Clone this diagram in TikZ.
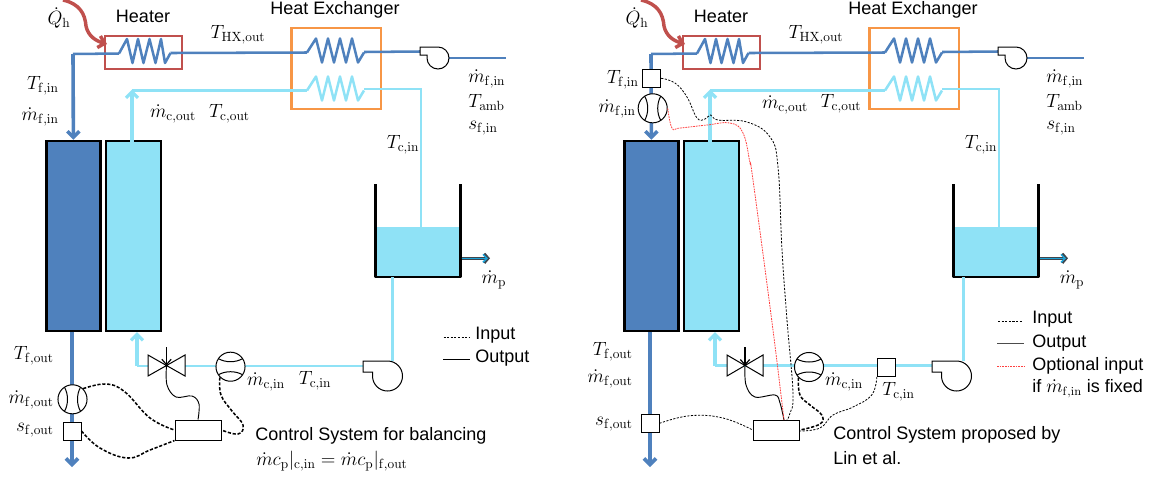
\documentclass[tikz,border=0pt]{standalone}
\usepackage[no-math]{fontspec}
\newfontfamily\sanslabel{Liberation Sans}
\usetikzlibrary{arrows.meta,calc}
\definecolor{hotc}{HTML}{4F81BD}
\definecolor{coldc}{HTML}{8FE2F6}
\definecolor{redc}{HTML}{C0504D}
\definecolor{orangec}{HTML}{F79646}
\tikzset{
  mathlbl/.style={font=\fontsize{14.4}{16}\selectfont,inner sep=0pt,text=black},
  sanslbl/.style={font=\sanslabel\fontsize{13.5}{16}\selectfont,inner sep=0pt,text=black,align=left},
  hotpipe/.style={draw=hotc,line width=1.9pt},
  hotmain/.style={draw=hotc,line width=2.7pt,-{Straight Barb[length=4.5pt,width=9pt]}},
  coldpipe/.style={draw=coldc,line width=1.9pt},
  coldmain/.style={draw=coldc,line width=2.5pt,-{Straight Barb[length=4.5pt,width=9pt]}},
  thinblk/.style={draw=black,line width=.75pt},
  instr/.style={thinblk,fill=white,minimum width=13.5pt,minimum height=13.5pt,inner sep=0pt},
  ctrl/.style={thinblk,fill=white,minimum width=34.5pt,minimum height=15pt,inner sep=0pt},
  meter/.style={thinblk,fill=white,circle,minimum size=21.8pt,inner sep=0pt},
  sigthick/.style={draw=black,line width=1.15pt,dash pattern=on 2.4pt off 1.3pt},
  sigthin/.style={draw=black,line width=.6pt,dash pattern=on 1.6pt off 1.1pt},
  sigsolid/.style={draw=black,line width=.7pt},
  sigred/.style={draw=red!75,line width=.6pt,dash pattern=on 1.3pt off .7pt},
  block/.style={draw=black,line width=1.8pt,minimum height=142.5pt,inner sep=0pt},
}
\newcommand{\coilpath}[2]{% x, y start
  (#1,#2) -- ++(9,-14) -- ++(6,24) -- ++(6,-24) -- ++(6,24) -- ++(6,-24) -- ++(6,24) -- ++(6,-24) -- ++(6,24) -- ++(6,-10)}
\newcommand{\meterV}[3]{% name x y
  \node[meter] (#1) at (#2,#3) {};
  \draw[thinblk] ([shift={(-8,-12)}]#1.center) .. controls +(4,7) and +(4,-7) .. ([shift={(-8,12)}]#1.center);
  \draw[thinblk] ([shift={(8,-12)}]#1.center) .. controls +(-4,7) and +(-4,-7) .. ([shift={(8,12)}]#1.center);}
\newcommand{\meterH}[3]{% name x y
  \node[meter] (#1) at (#2,#3) {};
  \draw[thinblk] ([shift={(-12,-8)}]#1.center) .. controls +(7,4) and +(-7,4) .. ([shift={(12,-8)}]#1.center);
  \draw[thinblk] ([shift={(-12,8)}]#1.center) .. controls +(7,-4) and +(-7,-4) .. ([shift={(12,8)}]#1.center);}
\newcommand{\sharedparts}{%
  \node[draw=redc,line width=1.6pt,minimum width=57.75pt,minimum height=25pt,inner sep=0pt] (heater) at (143.5,52.3) {};
  \node[draw=orangec,line width=1.7pt,minimum width=67.1pt,minimum height=60.75pt,inner sep=0pt] (hx) at (336.3,68.5) {};
  \coordinate (hcoilin) at (119,53.5);
  \coordinate (hcoilout) at (170.5,53);
  \coordinate (xcoilin) at (307,52.5);
  \coordinate (xcoilout) at (364,52);
  \coordinate (ccoilin) at (307,90.5);
  \coordinate (ccoilout) at (364,89);
  \draw[hotpipe,line join=round] (hcoilin) -- (127,39) -- (132.5,63) -- (138,39) -- (143.5,63) -- (149.5,39) -- (155.5,63) -- (161,39) -- (165,63) -- (hcoilout);
  \draw[hotpipe,line join=round] \coilpath{307}{52.5};
  \draw[coldpipe,line join=round] \coilpath{307}{90.5};
  \draw[hotpipe] (hcoilout) -- (xcoilin);
  \node[block,fill=hotc,minimum width=40.35pt] (hot) at (73.4,236) {};
  \node[block,fill=coldc,minimum width=41.4pt] (cold) at (133.4,236) {};
  \coordinate (ctop) at (132,90.5);
  \coordinate (cbot) at (132,142);
  \draw[coldpipe] (ccoilin) -- (ctop);
  \draw[coldmain] (cbot) -- ($(ctop)+(0,-1)$);
  \fill[coldc] (376,227) rectangle (460.5,277);
  \coordinate (tanktap) at (421,227);
  \coordinate (coldelbow) at (421,89);
  \draw[coldpipe] (ccoilout) -- (coldelbow) -- (tanktap);
  \draw[black,line width=1.8pt,line join=round] (375.5,184) -- (375.5,277) -- (460.5,277) -- (460.5,184);
  \coordinate (tapin) at (461.5,258.3);
  \coordinate (tapout) at (491,258.3);
  \draw[draw=black!80!cyan,line width=2.4pt] (tapin) -- ($(tapout)+(-4,0)$);
  \draw[draw=black!80!cyan,line width=2pt,-{Straight Barb[length=3pt,width=7pt]}] ($(tapout)+(-8,0)$) -- ($(tapout)+(-1,0)$);
  \draw[draw=cyan!75!teal,line width=1.1pt,-{Straight Barb[length=3pt,width=6pt]}] (tapin) -- ($(tapout)+(-3,0)$);
  \coordinate (fanin) at (420,51.5);
  \coordinate (fanout) at (506,58);
  \draw[hotpipe] (xcoilout) -- (fanin);
  \draw[hotpipe] (449,58) -- (fanout);
  \draw[thinblk,fill=white] (420,47) -- (438,47) arc[start angle=-90,end angle=180,radius=11] -- (427,55) -- (420,55) -- cycle;
  \coordinate (qstart) at (63,0);
  \draw[draw=redc,line width=2.6pt,-{Straight Barb[length=4.5pt,width=9pt]}] (qstart) .. controls (80,4) and (85,14) .. (86,26) .. controls (88,36) and (96,41) .. (107,44);
  \node[mathlbl] (lq) at (59,18) {$\dot{Q}_{\mathrm{h}}$};
  \node[sanslbl] (lh) at (143,16) {Heater};
  \node[sanslbl] (lx) at (335,10) {Heat Exchanger};
  \node[mathlbl] (lthx) at (238,35) {$T_{\mathrm{HX,out}}$};
  \node[mathlbl,anchor=west] (lm1) at (468,79) {$\dot{m}_{\mathrm{f,in}}$};
  \node[mathlbl,anchor=west] (lm2) at (468,102.5) {$T_{\mathrm{amb}}$};
  \node[mathlbl,anchor=west] (lm3) at (468,128.5) {$s_{\mathrm{f,in}}$};
  \node[mathlbl] (lci) at (403,145) {$T_{\mathrm{c,in}}$};
  \node[mathlbl] (lp) at (494,280) {$\dot{m}_{\mathrm{p}}$};
}
\begin{document}
\begin{tikzpicture}[x=.75pt,y=-.75pt]
\useasboundingbox (0,0) rectangle (1156,480);
% ---------------- left
\begin{scope}[name prefix=a-]
\sharedparts
\coordinate (hotelbow) at (73,54);
\draw[hotpipe] (hcoilin) -- (hotelbow);
\draw[hotmain] (hotelbow) -- (hot.north);
\coordinate (hotend) at (72,467);
\draw[hotmain] (72,332) -- (hotend);
\meterV{fm}{72.5}{399.3}
\node[instr] (sf) at (72,431) {};
\coordinate (cj) at (137,366);
\draw[coldmain] (cj) -- (137,332);
\draw[coldpipe] (cj) -- (363,366);
\draw[coldpipe] (392.3,361) -- (392.3,277);
\draw[thinblk,fill=white] (363,361) -- (387.5,361) arc[start angle=-90,end angle=180,radius=15] -- (372.5,372) -- (363,372) -- cycle;
\draw[thinblk,fill=white] (148,355) -- (185,376) -- (185,355) -- (148,376) -- cycle;
\coordinate (vc) at (166.5,365.5);
\draw[black,line width=.9pt,-{Straight Barb[length=4pt,width=7pt]}] (166.5,347) -- (vc);
\meterH{fc}{230.5}{366.7}
\node[ctrl] (cs) at (198,430) {};
\draw[sigsolid] plot[smooth,tension=.6] coordinates {(vc) (167,385) (176,397) (192,396) (199,404) (cs.north)};
\draw[sigthick] plot[smooth,tension=.7] coordinates {(fm.north east) (106,384) (125,392) (150,418) (cs.west)};
\draw[sigthick] plot[smooth,tension=.7] coordinates {(sf.east) (100,448) (128,458) (150,450) (cs.south west)};
\draw[sigthick] plot[smooth,tension=.7] coordinates {(fc.south west) (221,395) (232,411) (243,425) (238,434) (cs.east)};
\node[mathlbl,anchor=east] (l1) at (59,85.5) {$T_{\mathrm{f,in}}$};
\node[mathlbl,anchor=east] (l2) at (59,117) {$\dot{m}_{\mathrm{f,in}}$};
\node[mathlbl] (l3) at (173,114) {$\dot{m}_{\mathrm{c,out}}$};
\node[mathlbl] (l4) at (229.5,113.5) {$T_{\mathrm{c,out}}$};
\node[mathlbl,anchor=east] (l5) at (54,356) {$T_{\mathrm{f,out}}$};
\node[mathlbl,anchor=east] (l6) at (54,400) {$\dot{m}_{\mathrm{f,out}}$};
\node[mathlbl,anchor=east] (l7) at (54,430) {$s_{\mathrm{f,out}}$};
\node[mathlbl] (l8) at (266,382) {$\dot{m}_{\mathrm{c,in}}$};
\node[mathlbl] (l9) at (315,381) {$T_{\mathrm{c,in}}$};
\coordinate (k1a) at (443.5,337); \coordinate (k1b) at (469,337);
\coordinate (k2a) at (443,359); \coordinate (k2b) at (470,359);
\draw[sigthin] (k1a) -- (k1b);
\draw[sigsolid] (k2a) -- (k2b);
\node[sanslbl,anchor=west] (t1) at (475,335) {Input};
\node[sanslbl,anchor=west] (t2) at (475,358) {Output};
\node[sanslbl,anchor=west] (t3) at (255,436) {Control System for balancing};
\node[mathlbl,anchor=west] (t4) at (256,461) {$\dot{m}c_{\mathrm{p}}|_{\mathrm{c,in}}=\dot{m}c_{\mathrm{p}}|_{\mathrm{f,out}}$};
\end{scope}
% ---------------- right
\begin{scope}[shift={(578,0)},name prefix=b-]
\sharedparts
\coordinate (hotelbow) at (73,54);
\draw[hotpipe] (hcoilin) -- (hotelbow);
\draw[hotmain] (hotelbow) -- (hot.north);
\coordinate (hotend) at (72,467);
\draw[hotmain] (72,332) -- (hotend);
\node[instr] (st) at (73.7,78.3) {};
\meterV{fmi}{74.7}{108.3}
\node[instr] (sf) at (72,423.3) {};
\coordinate (cj) at (137,365.7);
\draw[coldmain] (cj) -- (137,332);
\draw[coldpipe] (cj) -- (354,365.7);
\draw[coldpipe] (385.3,361) -- (385.3,277);
\draw[thinblk,fill=white] (354,361) -- (378.5,361) arc[start angle=-90,end angle=180,radius=15] -- (363.5,372) -- (354,372) -- cycle;
\draw[thinblk,fill=white] (149,355) -- (185,376) -- (185,355) -- (149,376) -- cycle;
\coordinate (vc) at (167,365.7);
\draw[black,line width=.9pt,-{Straight Barb[length=4pt,width=7pt]}] (167,347) -- (vc);
\meterH{fc}{231}{367}
\node[instr] (tc) at (308.3,367.5) {};
\node[ctrl] (cs) at (198.3,430) {};
\draw[sigsolid] plot[smooth,tension=.6] coordinates {(vc) (168,385) (177,397) (197,395) (202,403) (206,420)};
\draw[sigthin] plot[smooth,tension=.7] coordinates {(st.east) (97,83) (109,97) (119,118) (127,119) (132.7,115) (140,120) (169,122) (192,137) (200,167) (204,250) (209,320) (215,393) (212,413) (209,420)};
\draw[sigred] plot[smooth,tension=.7] coordinates {(fmi.east) (94,128) (102,128) (129,125) (152,123) (165,133) (172,163) (175,180) (193.7,320) (206,420)};
\draw[sigthick] plot[smooth,tension=.7] coordinates {(fc.south west) (222,395) (232,405) (243.7,415) (242,424) (cs.east)};
\draw[sigthin] plot[smooth,tension=.7] coordinates {(tc.south west) (293.7,395) (275,407) (255,415) (242,428) (221.3,431)};
\draw[sigthin] plot[smooth,tension=.7] coordinates {(sf.east) (112,415.7) (145,418) (cs.west)};
\node[mathlbl,anchor=east] (l1) at (61,80) {$T_{\mathrm{f,in}}$};
\node[mathlbl,anchor=east] (l2) at (58,109) {$\dot{m}_{\mathrm{f,in}}$};
\node[mathlbl] (l3) at (207,105) {$\dot{m}_{\mathrm{c,out}}$};
\node[mathlbl] (l4) at (263,104) {$T_{\mathrm{c,out}}$};
\node[mathlbl,anchor=east] (l5) at (55,352) {$T_{\mathrm{f,out}}$};
\node[mathlbl,anchor=east] (l6) at (55,379) {$\dot{m}_{\mathrm{f,out}}$};
\node[mathlbl,anchor=east] (l7) at (55,424) {$s_{\mathrm{f,out}}$};
\node[mathlbl] (l8) at (266,382) {$\dot{m}_{\mathrm{c,in}}$};
\node[mathlbl,anchor=west] (l9) at (304,392) {$T_{\mathrm{c,in}}$};
\coordinate (k1a) at (420,321); \coordinate (k1b) at (445,321);
\coordinate (k2a) at (419,343.7); \coordinate (k2b) at (446,343.7);
\coordinate (k3a) at (419,366); \coordinate (k3b) at (446,366);
\draw[sigthin] (k1a) -- (k1b);
\draw[draw=black!70,line width=.9pt] (k2a) -- (k2b);
\draw[sigred] (k3a) -- (k3b);
\node[sanslbl,anchor=west] (t1) at (454,319) {Input};
\node[sanslbl,anchor=west] (t2) at (454,343) {Output};
\node[sanslbl,anchor=west] (t3) at (454,366) {Optional input};
\node[sanslbl,anchor=west] (t4) at (454,389) {if $\dot{m}_{\mathrm{f,in}}$ is fixed};
\node[sanslbl,anchor=west] (t5) at (255,435) {Control System proposed by};
\node[sanslbl,anchor=west] (t6) at (255,458) {Lin et al.};
\end{scope}
\end{tikzpicture}
\end{document}
